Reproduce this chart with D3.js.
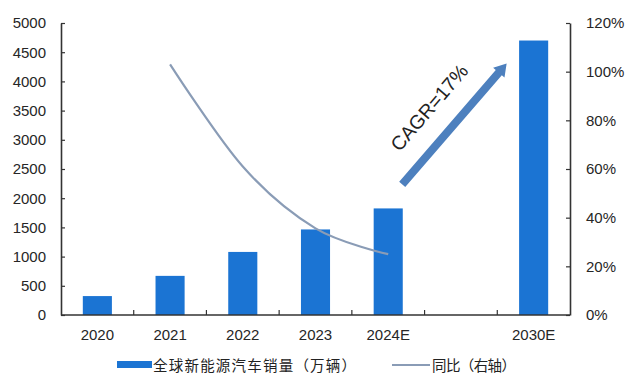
<!DOCTYPE html>
<html>
<head>
<meta charset="utf-8">
<script src="https://cdn.jsdelivr.net/npm/d3@7/dist/d3.min.js"></script>
<style>
  html, body { margin: 0; padding: 0; background: #fff; }
  svg { display: block; }
  .tick-label { font-family: "Liberation Sans", Arial, sans-serif; font-size: 15px; fill: #262626; }
  .legend-text { font-family: "Noto Sans CJK SC", sans-serif; font-size: 14.5px; fill: #222; }
</style>
</head>
<body>
<svg id="chart" width="627" height="374"></svg>
<script>
// Global NEV sales (10k units) and year-over-year growth
const categories = ["2020", "2021", "2022", "2023", "2024E", "", "2030E"];
const sales = [324, 670, 1080, 1465, 1825, null, 4700];
const growthCats = ["2021", "2022", "2023", "2024E"];
const growth = [1.03, 0.61, 0.356, 0.25];
const leftTicks = [0, 500, 1000, 1500, 2000, 2500, 3000, 3500, 4000, 4500, 5000];
const rightTicks = [0, 0.2, 0.4, 0.6, 0.8, 1.0, 1.2];
const legendLabels = ["全球新能源汽车销量（万辆）", "同比（右轴）"];
const cagrLabel = "CAGR=17%";

const svg = d3.select("#chart");
const plotLeft = 61, plotRight = 570, plotTop = 23, plotBottom = 315;
const barColor = "#1b74d3";
const lineColor = "#8a9cb6";
const axisColor = "#333";

const x = d3.scaleBand().domain(categories).range([plotLeft, plotRight])
  .paddingInner(0.6).paddingOuter(0.3);
const yL = d3.scaleLinear().domain([0, 5000]).range([plotBottom, plotTop]);
const yR = d3.scaleLinear().domain([0, 1.2]).range([plotBottom, plotTop]);

// bars
svg.append("g").selectAll("rect")
  .data(categories.map((c, i) => ({ c, v: sales[i] })).filter(d => d.v != null))
  .join("rect")
  .attr("x", d => x(d.c))
  .attr("width", x.bandwidth())
  .attr("y", d => yL(d.v))
  .attr("height", d => yL(0) - yL(d.v))
  .attr("fill", barColor);

// growth line
const cx = c => x(c) + x.bandwidth() / 2;
const line = d3.line()
  .x((d, i) => cx(growthCats[i]))
  .y(d => yR(d))
  .curve(d3.curveCatmullRom.alpha(0));
svg.append("path")
  .attr("d", line(growth))
  .attr("fill", "none")
  .attr("stroke", lineColor)
  .attr("stroke-width", 2.2);

// left axis
const gL = svg.append("g").attr("transform", `translate(${plotLeft},0)`)
  .call(d3.axisLeft(yL).tickValues(leftTicks).tickFormat(d3.format("d"))
    .tickSizeInner(-4).tickSizeOuter(0).tickPadding(15));
gL.select(".domain").attr("stroke", axisColor).attr("stroke-width", 1.6);
gL.selectAll(".tick line").attr("stroke", axisColor).attr("stroke-width", 1.2);
gL.selectAll(".tick text").attr("class", "tick-label");
gL.attr("font-size", null).attr("font-family", null);

// right axis
const gR = svg.append("g").attr("transform", `translate(${plotRight},0)`)
  .call(d3.axisRight(yR).tickValues(rightTicks).tickFormat(d3.format(".0%"))
    .tickSizeInner(-4).tickSizeOuter(0).tickPadding(16));
gR.select(".domain").attr("stroke", axisColor).attr("stroke-width", 1.6);
gR.selectAll(".tick line").attr("stroke", axisColor).attr("stroke-width", 1.2);
gR.selectAll(".tick text").attr("class", "tick-label");
gR.attr("font-size", null).attr("font-family", null);

// bottom axis: ticks between categories, labels centred
const gB = svg.append("g").attr("transform", `translate(0,${plotBottom})`);
gB.append("line").attr("x1", plotLeft).attr("x2", plotRight).attr("y1", 0).attr("y2", 0)
  .attr("stroke", axisColor).attr("stroke-width", 1.6);
const gap = x.step() - x.bandwidth();
gB.selectAll("line.sep")
  .data(categories.slice(1))
  .join("line").attr("class", "sep")
  .attr("x1", c => x(c) - gap / 2).attr("x2", c => x(c) - gap / 2)
  .attr("y1", 0).attr("y2", -5)
  .attr("stroke", axisColor).attr("stroke-width", 1.2);
gB.selectAll("text")
  .data(categories.filter(c => c !== ""))
  .join("text").attr("class", "tick-label")
  .attr("x", c => cx(c)).attr("y", 25)
  .attr("text-anchor", "middle")
  .text(c => c);

// CAGR arrow from above the 2024E bar up towards the 2030E bar
const a0 = [cx("2024E") + 14, yL(2235)];
const a1 = [cx("2030E") - 27, yL(4305)];
const ang = Math.atan2(a1[1] - a0[1], a1[0] - a0[0]);
const len = Math.hypot(a1[0] - a0[0], a1[1] - a0[1]);
const shaftW = 8, headW = 15, headL = 12;
const arrow = svg.append("g")
  .attr("transform", `translate(${a0[0]},${a0[1]}) rotate(${ang * 180 / Math.PI})`);
arrow.append("path")
  .attr("d", `M0,${-shaftW / 2} L${len - headL},${-shaftW / 2} L${len - headL},${-headW / 2} L${len},0 L${len - headL},${headW / 2} L${len - headL},${shaftW / 2} L0,${shaftW / 2} Z`)
  .attr("fill", "#4d80be");
arrow.append("text")
  .attr("x", len / 2 - 4).attr("y", -30)
  .attr("text-anchor", "middle")
  .attr("dominant-baseline", "central")
  .attr("font-family", "Liberation Sans, Arial, sans-serif")
  .attr("font-size", 19.5)
  .attr("fill", "#222")
  .text(cagrLabel);

// legend
const lg = svg.append("g");
lg.append("rect").attr("x", 117).attr("y", 361).attr("width", 35).attr("height", 7).attr("fill", barColor);
lg.append("text").attr("class", "legend-text").attr("x", 153).attr("y", 371)
  .attr("textLength", 203).attr("lengthAdjust", "spacing").text(legendLabels[0]);
lg.append("line").attr("x1", 392).attr("x2", 430).attr("y1", 365).attr("y2", 365)
  .attr("stroke", lineColor).attr("stroke-width", 2.2);
lg.append("text").attr("class", "legend-text").attr("x", 432).attr("y", 371)
  .attr("textLength", 84).attr("lengthAdjust", "spacing").text(legendLabels[1]);
</script>
</body>
</html>
